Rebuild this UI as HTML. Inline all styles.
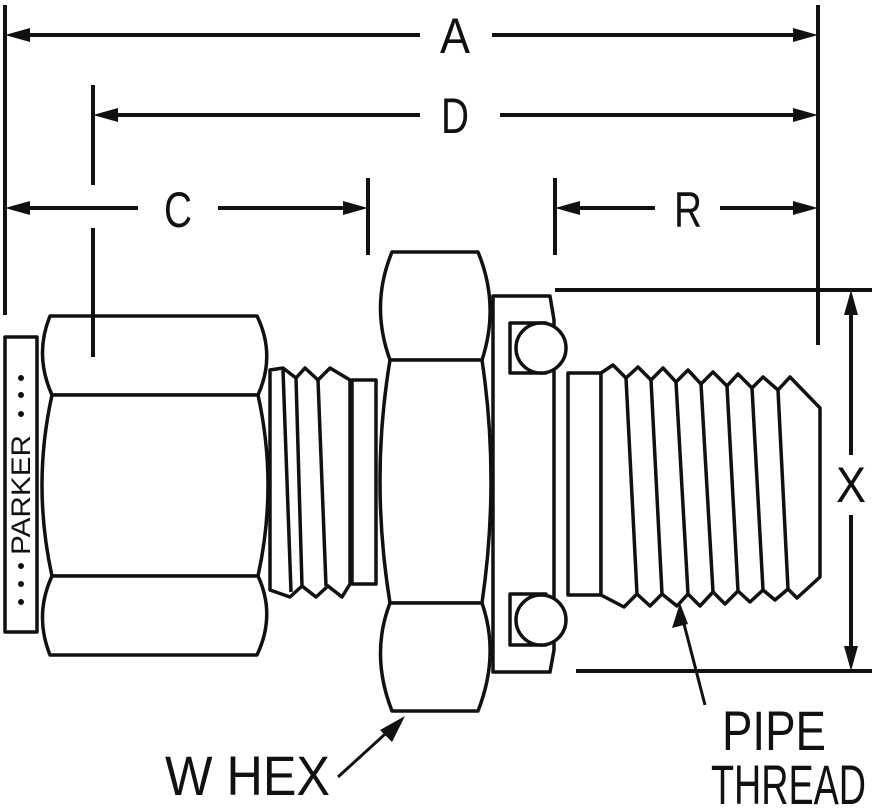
<!DOCTYPE html>
<html><head><style>
html,body{margin:0;padding:0;background:#fff;}
svg{display:block;}
text{font-family:"Liberation Sans",sans-serif;fill:#111;}
</style></head><body>
<svg width="879" height="810" viewBox="0 0 879 810" xmlns="http://www.w3.org/2000/svg">
<g stroke="#111" stroke-width="4" fill="none">
<line x1="5" y1="5" x2="5" y2="315"/>
<line x1="818" y1="5" x2="818" y2="345"/>
<line x1="93" y1="85" x2="93" y2="185"/>
<line x1="368" y1="178" x2="368" y2="255"/>
<line x1="555" y1="178" x2="555" y2="255"/>
<line x1="555" y1="290" x2="872" y2="290"/>
<line x1="576" y1="671" x2="872" y2="671"/>
<line x1="20" y1="35" x2="420" y2="35"/><line x1="492" y1="35" x2="803" y2="35"/>
<line x1="108" y1="115" x2="420" y2="115"/><line x1="500" y1="115" x2="803" y2="115"/>
<line x1="20" y1="208" x2="138" y2="208"/><line x1="218" y1="208" x2="353" y2="208"/>
<line x1="570" y1="208" x2="655" y2="208"/><line x1="720" y1="208" x2="803" y2="208"/>
<line x1="851" y1="305" x2="851" y2="455"/><line x1="851" y1="515" x2="851" y2="656"/>
</g>
<g fill="#111">
<polygon points="5,35 30,28 30,42"/><polygon points="818,35 793,28 793,42"/>
<polygon points="93,115 118,108 118,122"/><polygon points="818,115 793,108 793,122"/>
<polygon points="5,208 30,201 30,215"/><polygon points="368,208 343,201 343,215"/>
<polygon points="555,208 580,201 580,215"/><polygon points="818,208 793,201 793,215"/>
<polygon points="851,290 844,315 858,315"/><polygon points="851,671 844,646 858,646"/>
</g>
<g font-size="50">
<text x="455" y="53" text-anchor="middle" textLength="30" lengthAdjust="spacingAndGlyphs">A</text>
<text x="455" y="133" text-anchor="middle" textLength="28" lengthAdjust="spacingAndGlyphs">D</text>
<text x="178" y="227" text-anchor="middle" textLength="28" lengthAdjust="spacingAndGlyphs">C</text>
<text x="688" y="227" text-anchor="middle" textLength="28" lengthAdjust="spacingAndGlyphs">R</text>
<text x="851" y="502" text-anchor="middle" textLength="30" lengthAdjust="spacingAndGlyphs">X</text>
</g>
<g font-size="56">
<text x="165" y="795" textLength="165" lengthAdjust="spacingAndGlyphs">W HEX</text>
<text x="722" y="750" textLength="104" lengthAdjust="spacingAndGlyphs">PIPE</text>
<text x="711" y="804" textLength="155" lengthAdjust="spacingAndGlyphs">THREAD</text>
</g>
<g stroke="#111" stroke-width="3.5" fill="#fff" stroke-linejoin="round">
<rect x="5" y="337" width="32" height="295"/>
<path d="M50,316 L257,316 Q276,355 258,395 L52,395 Q34,355 50,316 Z"/>
<path d="M52,395 L258,395 Q278,485 258,576 L52,576 Q32,485 52,395 Z"/>
<path d="M52,576 L258,576 Q276,615 257,655 L50,655 Q34,615 52,576 Z"/>
<path d="M270,370 L283,368 L296,378 L305,368 L318,380 L330,368 L350,380 L350,584 L342,597 L328,586 L316,597 L302,586 L290,597 L270,590 Z"/>
<line x1="283" y1="370" x2="291" y2="592"/><line x1="296" y1="378" x2="302" y2="586"/><line x1="318" y1="380" x2="326" y2="586"/>
<rect x="352" y="380" width="24" height="204"/>
<path d="M493,296 L550,296 L554,320 L554,650 L550,672 L493,672 Z"/>
<rect x="510" y="323" width="36" height="50"/>
<rect x="510" y="594" width="36" height="51"/>
<circle cx="541" cy="348" r="25"/><circle cx="541" cy="620" r="25"/>
<rect x="568" y="373" width="33" height="222"/>
<path d="M601,373 L613,365 L626,378 L638,367 L651,380 L663,368 L676,382 L688,370 L701,384 L713,372 L727,386 L738,374 L752,388 L763,377 L778,390 L790,377 L820,408 L820,577 L797,598 L788,589 L775,600 L763,590 L750,602 L738,591 L725,604 L713,592 L700,606 L688,594 L677,606 L662,594 L650,606 L637,594 L624,607 L601,595 Z"/>
<line x1="626" y1="378" x2="637" y2="594"/><line x1="651" y1="380" x2="662" y2="594"/>
<line x1="676" y1="382" x2="688" y2="594"/><line x1="701" y1="384" x2="713" y2="592"/>
<line x1="727" y1="386" x2="738" y2="591"/><line x1="752" y1="388" x2="763" y2="590"/>
<line x1="778" y1="390" x2="788" y2="589"/>
<path d="M392,252 L478,252 Q500,305 482,360 L390,360 Q370,305 392,252 Z"/>
<path d="M390,360 L482,360 Q500,480 482,603 L390,603 Q370,480 390,360 Z"/>
<path d="M390,603 L482,603 Q500,655 478,711 L392,711 Q370,655 390,603 Z"/>
</g>
<line x1="93" y1="228" x2="93" y2="357" stroke="#111" stroke-width="4"/>
<text transform="translate(30,555) rotate(-90)" font-size="27" textLength="120" lengthAdjust="spacingAndGlyphs">PARKER</text>
<g fill="#111"><circle cx="21" cy="378" r="3"/><circle cx="21" cy="395" r="3"/><circle cx="21" cy="414" r="3"/>
<circle cx="21" cy="566" r="3"/><circle cx="21" cy="584" r="3"/><circle cx="21" cy="602" r="3"/></g>
<g stroke="#111" stroke-width="3"><line x1="338" y1="777" x2="395" y2="725"/><line x1="705" y1="705" x2="683" y2="620"/></g>
<g fill="#111"><polygon points="405,716 380,730 392,742"/><polygon points="680,603 672,628 688,624"/></g>
</svg>
</body></html>
